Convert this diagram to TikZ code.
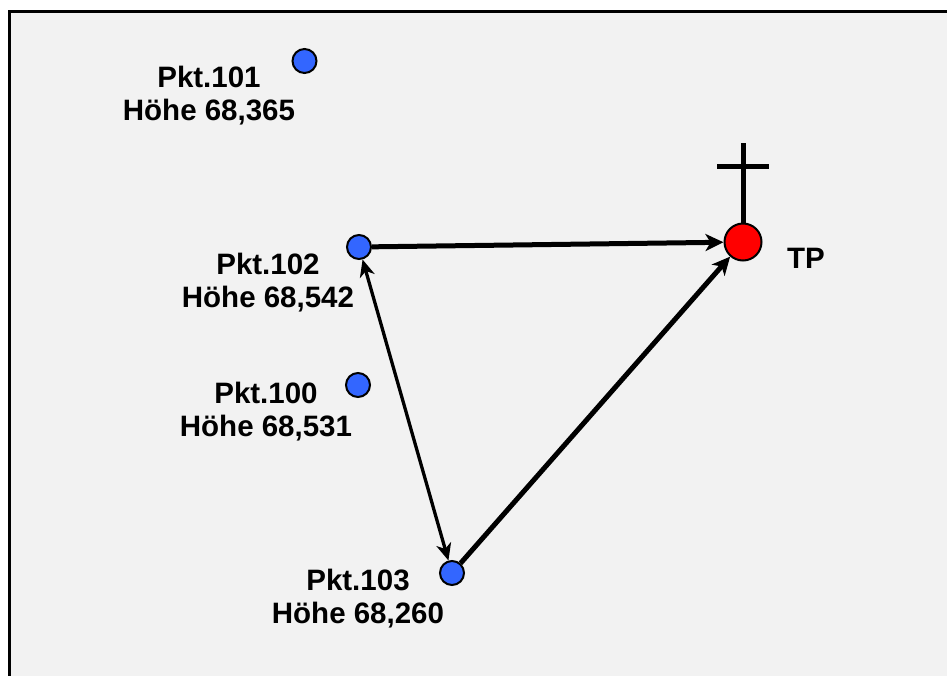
\documentclass[tikz,border=0pt]{standalone}
\usepackage{fontspec}
\setmainfont{Liberation Sans}
\usetikzlibrary{arrows.meta}
\definecolor{bgray}{HTML}{F2F2F2}
\definecolor{pblue}{HTML}{3366FF}
\definecolor{pred}{HTML}{FF0000}
\begin{document}
\begin{tikzpicture}[x=1pt,y=-1pt,
  pt/.style={circle,draw=black,line width=2pt,fill=pblue,minimum size=24pt,inner sep=0pt},
  tpdot/.style={circle,draw=black,line width=2pt,fill=pred,minimum size=37pt,inner sep=0pt},
  lbl/.style={font=\fontsize{29.5}{33}\selectfont\bfseries,align=center,anchor=base,inner sep=0pt},
  thick arrow/.style={line width=5pt,-{Stealth[length=18pt,width=17pt,inset=5pt]}},
  thin arrow/.style={line width=3.3pt,{Stealth[length=17pt,width=15pt,inset=5pt]}-{Stealth[length=17pt,width=15pt,inset=5pt]}}]
\useasboundingbox (0,0) rectangle (947,675);
\fill[white] (0,0) rectangle (947,675);
\draw[line width=3pt,fill=bgray] (9,11.5) rectangle (970,700);
% points
\node[pt] (p101) at (304.5,61) {};
\node[pt] (p102) at (359,247) {};
\node[pt] (p100) at (358,385) {};
\node[pt] (p103) at (452,573) {};
\node[tpdot] (tp) at (743,242) {};
% labels (base = last line)
\node[lbl] (l101) at (209,120) {Pkt.101\\Höhe 68,365};
\node[lbl] (l102) at (268,307) {Pkt.102\\Höhe 68,542};
\node[lbl] (l100) at (266,436) {Pkt.100\\Höhe 68,531};
\node[lbl] (l103) at (358,623) {Pkt.103\\Höhe 68,260};
\node[lbl] (ltp) at (806,268) {TP};
% cross
\coordinate (ctop) at (743,143);
\coordinate (cl) at (717,166);
\coordinate (cr) at (769,166);
\draw[line width=5pt] (tp.north) -- (ctop);
\draw[line width=5pt] (cl) -- (cr);
% connectors
\draw[thick arrow] (p102) -- (tp);
\draw[thick arrow] (p103) -- (tp);
\draw[thin arrow] (p102) -- (p103);
\end{tikzpicture}
\end{document}
